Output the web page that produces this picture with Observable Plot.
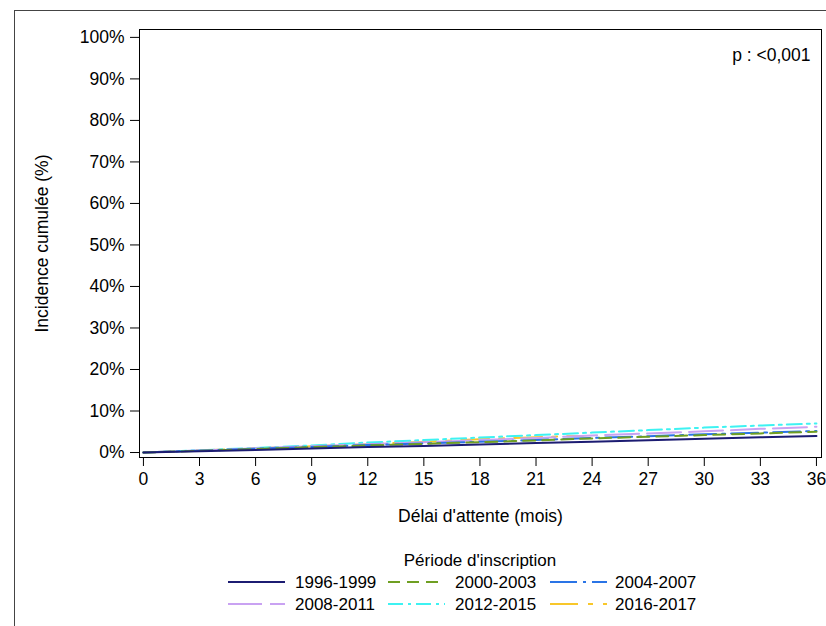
<!DOCTYPE html>
<html>
<head>
<meta charset="utf-8">
<script src="https://cdn.jsdelivr.net/npm/d3@7"></script>
<script src="https://cdn.jsdelivr.net/npm/@observablehq/plot@0.6"></script>
<style>
  html, body { margin: 0; padding: 0; background: #fff; }
  #wrap { position: relative; width: 826px; height: 626px; overflow: hidden; font-family: "Liberation Sans", Arial, sans-serif; }
  #border { position: absolute; left: 14px; top: 10px; width: 900px; height: 700px; border: 1px solid #444; box-sizing: border-box; }
  #chart { position: absolute; left: 0; top: 0; }
  #legend { position: absolute; left: 0; top: 0; }
</style>
</head>
<body>
<div id="wrap">
  <div id="border"></div>
  <div id="chart"></div>
  <svg id="legend" width="826" height="626"></svg>
</div>
<script>
// ---- data ----
const months = [0, 3, 6, 9, 12, 15, 18, 21, 24, 27, 30, 33, 36];
const xTicks = [0, 3, 6, 9, 12, 15, 18, 21, 24, 27, 30, 33, 36];
const yTicks = [0, 10, 20, 30, 40, 50, 60, 70, 80, 90, 100];
const seriesNames = ["1996-1999", "2000-2003", "2004-2007", "2008-2011", "2012-2015", "2016-2017"];
const v1996 = [0, 0.3, 0.6, 0.95, 1.3, 1.6, 1.95, 2.3, 2.6, 2.95, 3.3, 3.65, 4.0];
const v2000 = [0, 0.4, 0.85, 1.3, 1.7, 2.1, 2.5, 2.9, 3.4, 3.8, 4.2, 4.6, 5.0];
const v2004 = [0, 0.45, 0.9, 1.35, 1.8, 2.2, 2.6, 3.0, 3.5, 3.9, 4.4, 4.8, 5.2];
const v2008 = [0, 0.5, 1.0, 1.5, 2.0, 2.5, 3.0, 3.5, 4.1, 4.6, 5.1, 5.7, 6.2];
const v2012 = [0, 0.55, 1.1, 1.7, 2.4, 3.0, 3.6, 4.2, 4.8, 5.4, 6.0, 6.5, 7.0];
const months2016 = [0, 3, 6, 9, 12, 15, 18, 21, 23.5];
const v2016 = [0, 0.5, 1.0, 1.5, 2.0, 2.6, 3.2, 3.7, 4.0];
const colors = ["#1c1c72", "#6f9f22", "#2a74e6", "#c9a2f2", "#3ef2f2", "#f8c72a"];
const dashes = ["none", "12 7", "27 6 3 6", "34 8", "15 5 3 5", "28 10 5 10"];
const pText = "p : <0,001";
const xLabel = "Délai d'attente (mois)";
const yLabel = "Incidence cumulée (%)";
const legendTitle = "Période d'inscription";

const seriesX = [months, months, months, months, months, months2016];
const seriesY = [v1996, v2000, v2004, v2008, v2012, v2016];
const tables = seriesNames.map((name, i) => seriesX[i].map((m, j) => ({name, month: m, value: seriesY[i][j]})));

const FONT = "17.5px";
const LFONT = "17px";

const lineMarks = tables.map((t, i) => Plot.line(t, {
  x: "month", y: "value", stroke: colors[i], strokeWidth: 2,
  strokeDasharray: dashes[i] === "none" ? undefined : dashes[i]
}));

const chart = Plot.plot({
  width: 826,
  height: 626,
  marginLeft: 139,
  marginRight: 5,
  marginTop: 29,
  marginBottom: 169,
  style: {fontFamily: '"Liberation Sans", Arial, sans-serif', fontSize: FONT, background: "transparent", color: "#000", overflow: "visible"},
  x: {domain: [-0.21, 36.27]},
  y: {domain: [-1.2, 101.9]},
  marks: [
    ...lineMarks.slice().reverse(),
    Plot.frame({stroke: "#000", strokeWidth: 1}),
    Plot.axisX({ticks: xTicks, tickFormat: d => String(d), tickSize: 9, tickPadding: 6, label: null, fontSize: FONT}),
    Plot.axisY({ticks: yTicks, tickFormat: d => d + "%", tickSize: 9, tickPadding: 6, label: null, fontSize: FONT}),
    Plot.text([pText], {frameAnchor: "top-right", dx: -11, dy: 19, text: d => d, textAnchor: "end", fontSize: FONT}),
    Plot.text([xLabel], {frameAnchor: "bottom", dy: 64, text: d => d, textAnchor: "middle", fontSize: FONT}),
    Plot.text([yLabel], {frameAnchor: "left", dx: -97, rotate: -90, text: d => d, textAnchor: "middle", fontSize: FONT})
  ]
});
document.getElementById("chart").appendChild(chart);

// ---- legend ----
const lg = d3.select("#legend").style("font-family", '"Liberation Sans", Arial, sans-serif').style("font-size", LFONT);
lg.append("text").attr("x", 480).attr("y", 560).attr("text-anchor", "middle").attr("dominant-baseline", "central").text(legendTitle);
const colLine = [228, 388, 550];
const colText = [295, 455, 615];
const rowY = [582, 604];
seriesNames.forEach((name, i) => {
  const c = i % 3, r = Math.floor(i / 3);
  lg.append("line").attr("x1", colLine[c]).attr("x2", colLine[c] + 57).attr("y1", rowY[r]).attr("y2", rowY[r])
    .attr("stroke", colors[i]).attr("stroke-width", 2)
    .attr("stroke-dasharray", dashes[i] === "none" ? null : dashes[i]);
  lg.append("text").attr("x", colText[c]).attr("y", rowY[r]).attr("dominant-baseline", "central").text(name);
});
</script>
</body>
</html>
